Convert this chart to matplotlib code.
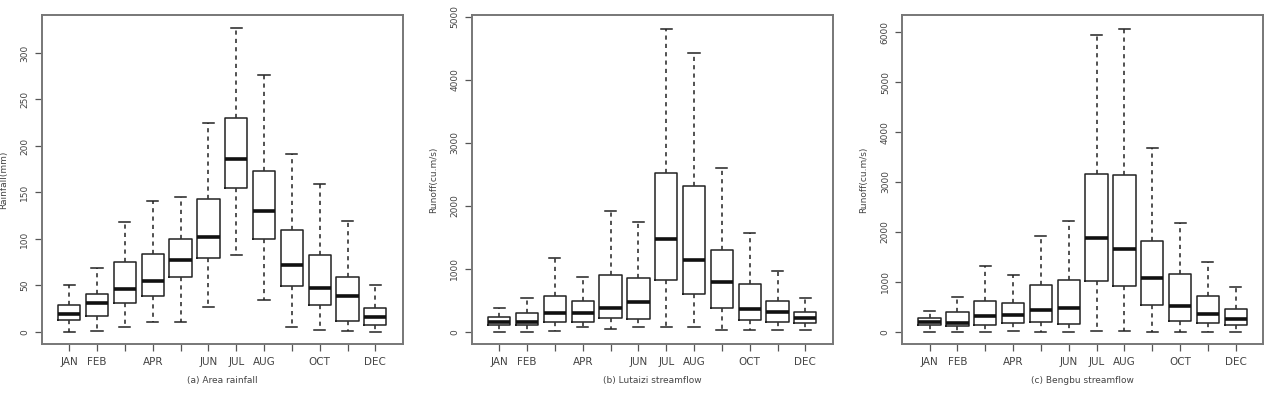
import matplotlib.pyplot as plt
import numpy as np

months = ['JAN', 'FEB', 'MAR', 'APR', 'MAY', 'JUN', 'JUL', 'AUG', 'SEP', 'OCT', 'NOV', 'DEC']
shown_labels = ['JAN', 'FEB', '', 'APR', '', 'JUN', 'JUL', 'AUG', '', 'OCT', '', 'DEC']

# (a) Area rainfall, mm
rain_low = [0, 1, 5, 11, 11, 27, 83, 34, 5, 2.5, 1, 0]
rain_q1 = [12.6, 17, 31.6, 38.5, 58.6, 79, 155, 100, 49.6, 28.7, 12, 7]
rain_med = [19.4, 31, 46, 55, 77, 102, 186, 130, 72, 47, 39, 16.5]
rain_q3 = [28.7, 41, 75.5, 84, 99.5, 143, 230, 173, 110, 83, 59, 25.5]
rain_high = [50, 69, 118, 141, 145, 225, 327, 276, 191, 159, 119, 50]

# (b) Lutaizi streamflow, cu.m/s
lut_low = [0, 0, 10, 79, 37, 69, 79, 69, 21, 21, 21, 21]
lut_q1 = [106, 106, 148, 159, 212, 201, 820, 598, 381, 190, 153, 143]
lut_med = [159, 159, 291, 291, 381, 476, 1471, 1143, 783, 360, 307, 212]
lut_q3 = [228, 302, 571, 492, 900, 857, 2519, 2312, 1291, 757, 492, 307]
lut_high = [381, 540, 1175, 862, 1910, 1735, 4810, 4429, 2598, 1561, 963, 540]

# (c) Bengbu streamflow, cu.m/s
ben_low = [0, 0, 0, 20, 0, 0, 20, 20, 0, 0, 0, 0]
ben_q1 = [134, 107, 134, 167, 188, 161, 1005, 911, 543, 221, 167, 134]
ben_med = [188, 167, 315, 335, 435, 482, 1869, 1648, 1078, 509, 348, 255]
ben_q3 = [268, 388, 616, 569, 944, 1038, 3168, 3148, 1815, 1159, 710, 455]
ben_high = [422, 703, 1313, 1132, 1916, 2224, 5941, 6075, 3684, 2184, 1393, 904]

panels = [
    ('Rainfall(mm)', '(a) Area rainfall', (rain_low, rain_q1, rain_med, rain_q3, rain_high),
     np.arange(0, 301, 50), (-13, 341)),
    ('Runoff(cu.m/s)', '(b) Lutaizi streamflow', (lut_low, lut_q1, lut_med, lut_q3, lut_high),
     np.arange(0, 5001, 1000), (-196, 5026)),
    ('Runoff(cu.m/s)', '(c) Bengbu streamflow', (ben_low, ben_q1, ben_med, ben_q3, ben_high),
     np.arange(0, 6001, 1000), (-248, 6350)),
]

fig = plt.figure(figsize=(12.79, 3.97), dpi=100)
lefts = [0.0328, 0.369, 0.7055]
txt = '#444444'

for left, (ylab, title, data, yt, ylim) in zip(lefts, panels):
    ax = fig.add_axes([left, 0.1335, 0.282, 0.829])
    lo, q1, med, q3, hi = data
    stats = [dict(whislo=a, q1=b, med=c, q3=d, whishi=e, fliers=[])
             for a, b, c, d, e in zip(lo, q1, med, q3, hi)]
    ax.bxp(stats, positions=np.arange(1, 13), widths=0.8, showfliers=False,
           boxprops=dict(color='#222222', linewidth=1.1),
           medianprops=dict(color='#111111', linewidth=2.6),
           whiskerprops=dict(color='#333333', linewidth=1.2, linestyle=(0, (2.5, 2.5))),
           capprops=dict(color='#222222', linewidth=1.1),
           capwidths=0.4)
    ax.set_xlim(0.02, 12.98)
    ax.set_ylim(*ylim)
    ax.set_xticks(np.arange(1, 13))
    ax.set_xticklabels(shown_labels, fontsize=7.5, color=txt)
    ax.set_yticks(yt)
    ax.set_yticklabels([str(v) for v in yt], rotation=90, va='center', fontsize=6.5, color=txt)
    ax.tick_params(axis='both', colors='#555555', length=5, width=0.9, pad=4)
    ax.tick_params(axis='x', labelcolor=txt, pad=4)
    ax.tick_params(axis='y', labelcolor=txt)
    for s in ax.spines.values():
        s.set_color('#777777')
        s.set_linewidth(1.4)
    ax.set_ylabel(ylab, fontsize=6.5, color=txt, labelpad=9)
    ax.set_xlabel(title, fontsize=6.5, color=txt, labelpad=7)

plt.savefig('out.png', format='png')
